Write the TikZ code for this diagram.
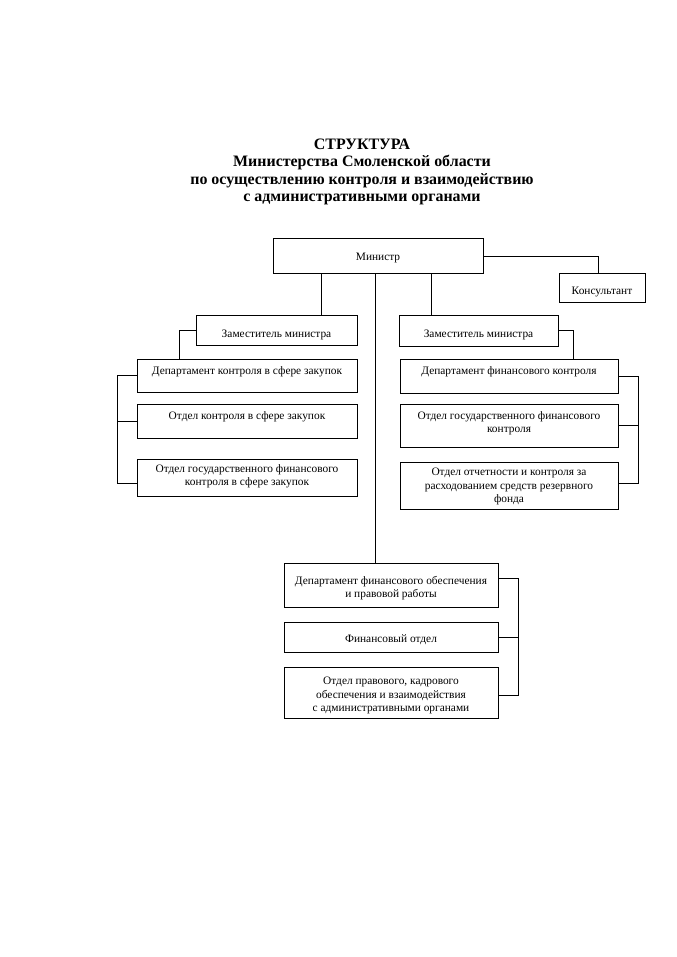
\documentclass[tikz,border=0pt]{standalone}
\usepackage{fontspec}
\setmainfont{Liberation Serif}
\tikzset{
  box/.style={draw, line width=0.6pt, inner sep=0pt},
  boxtext/.style={align=center, inner sep=0pt, font=\fontsize{10}{11.5}\selectfont},
  conn/.style={line width=0.6pt},
}
\def\pxunit{0.8788pt}
% name, left, top, right, bottom, text, downward text offset (px)
\newcommand{\bx}[7]{\node[box, minimum width={(#4-#2)*\pxunit}, minimum height={(#5-#3)*\pxunit},
  label={[boxtext, yshift={-(#7)*\pxunit}]center:{#6}}] (#1) at ({(#2+#4)/2},{(#3+#5)/2}) {};}
\begin{document}
\begin{tikzpicture}[x=0.8788pt, y=-0.8788pt]
\useasboundingbox[fill=white] (0,0) rectangle (677,957);
\node[align=center, font=\bfseries\fontsize{14}{15.3}\selectfont] (title) at (362,172)
  {СТРУКТУРА\\Министерства Смоленской области\\по осуществлению контроля и взаимодействию\\с административными органами};
\bx{min}{273}{238}{483}{273}{Министр}{2.5}
\bx{kons}{559}{273}{645}{302}{Консультант}{4.5}
\bx{depL}{196}{315}{357}{345}{Заместитель министра}{5}
\bx{depR}{399}{315}{558}{346}{Заместитель министра}{4.5}
\bx{dL}{137}{359}{357}{392}{Департамент контроля в сфере закупок}{-3.5}
\bx{oL1}{137}{404}{357}{438}{Отдел контроля в сфере закупок}{-4}
\bx{oL2}{137}{459}{357}{496}{Отдел государственного финансового\\контроля в сфере закупок}{-1}
\bx{dR}{400}{359}{618}{393}{Департамент финансового контроля}{-4}
\bx{oR1}{400}{404}{618}{447}{Отдел государственного финансового\\контроля}{-2}
\bx{oR2}{400}{462}{618}{509}{Отдел отчетности и контроля за\\расходованием средств резервного\\фонда}{1}
\bx{dB}{284}{563}{498}{607}{Департамент финансового обеспечения\\и правовой работы}{3}
\bx{oB1}{284}{622}{498}{652}{Финансовый отдел}{3}
\bx{oB2}{284}{667}{498}{718}{Отдел правового, кадрового\\обеспечения и взаимодействия\\с административными органами}{3}
% helper coordinates
\coordinate (xL) at (321,0);
\coordinate (xC) at (375,0);
\coordinate (xR) at (431,0);
\coordinate (xK) at (598,256);
\coordinate (xA) at (179,0);
\coordinate (xB) at (573,0);
\coordinate (bL) at (117,0);
\coordinate (bR) at (638,0);
\coordinate (bB) at (518,0);
\coordinate (yL2) at (0,483);
\coordinate (yR2) at (0,483);
\coordinate (yB0) at (0,578);
\coordinate (yB2) at (0,695);
% minister links
\draw[conn] (min.south -| xL) -- (depL.north -| xL);
\draw[conn] (min.south -| xR) -- (depR.north -| xR);
\draw[conn] (min.south -| xC) -- (dB.north -| xC);
\draw[conn] (min.east |- xK) -- (xK) -- (kons.north -| xK);
% deputies to departments
\draw[conn] (depL.west) -| (xA |- dL.north);
\draw[conn] (depR.east) -| (xB |- dR.north);
% left bracket
\draw[conn] (dL.west) -- (dL.west -| bL) -- (bL |- yL2) -- (oL2.west |- yL2);
\draw[conn] (oL1.west) -- (oL1.west -| bL);
% right bracket
\draw[conn] (dR.east) -- (dR.east -| bR) -- (bR |- yR2) -- (oR2.east |- yR2);
\draw[conn] (oR1.east) -- (oR1.east -| bR);
% bottom bracket
\draw[conn] (dB.east |- yB0) -- (bB |- yB0) -- (bB |- yB2) -- (oB2.east |- yB2);
\draw[conn] (oB1.east) -- (oB1.east -| bB);
\end{tikzpicture}
\end{document}
